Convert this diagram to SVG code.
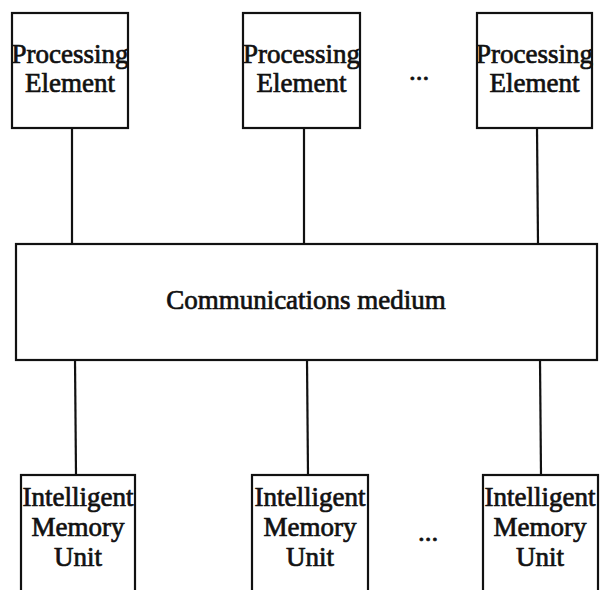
<svg xmlns="http://www.w3.org/2000/svg" width="600" height="590" viewBox="0 0 600 590">
<style>
.box{fill:#fff;stroke:#111;stroke-width:2.2}
.ln{stroke:#111;stroke-width:2.2;fill:none}
.t{font-family:"Liberation Serif","Times New Roman",serif;font-size:27px;fill:#111;text-anchor:middle;stroke:#111;stroke-width:0.7}
</style>
<rect width="600" height="590" fill="#fff"/>
<g id="connectors">
<line class="ln" x1="72" y1="128" x2="72" y2="244"/>
<line class="ln" x1="304" y1="128" x2="304" y2="244"/>
<line class="ln" x1="537" y1="128" x2="538" y2="244"/>
<line class="ln" x1="75" y1="360" x2="76" y2="475"/>
<line class="ln" x1="307" y1="360" x2="308" y2="475"/>
<line class="ln" x1="540" y1="360" x2="541" y2="475"/>
</g>
<g id="pe1"><rect class="box" x="12" y="13" width="116" height="115"/><text class="t" x="70" y="63">Processing</text><text class="t" x="70" y="92">Element</text></g>
<g id="pe2"><rect class="box" x="243" y="13" width="117" height="115"/><text class="t" x="301.5" y="63">Processing</text><text class="t" x="301.5" y="92">Element</text></g>
<g id="pe-dots"><text class="t" x="419" y="80">...</text></g>
<g id="pe3"><rect class="box" x="477" y="13" width="115" height="115"/><text class="t" x="534.5" y="63">Processing</text><text class="t" x="534.5" y="92">Element</text></g>
<g id="comm"><rect class="box" x="16" y="244" width="581" height="116"/><text class="t" x="306" y="309">Communications medium</text></g>
<g id="imu1"><rect class="box" x="21" y="475" width="114" height="130"/><text class="t" x="78" y="506">Intelligent</text><text class="t" x="78" y="536">Memory</text><text class="t" x="78" y="566">Unit</text></g>
<g id="imu2"><rect class="box" x="252" y="475" width="116" height="130"/><text class="t" x="310" y="506">Intelligent</text><text class="t" x="310" y="536">Memory</text><text class="t" x="310" y="566">Unit</text></g>
<g id="imu-dots"><text class="t" x="428" y="541">...</text></g>
<g id="imu3"><rect class="box" x="483" y="475" width="115" height="130"/><text class="t" x="540" y="506">Intelligent</text><text class="t" x="540" y="536">Memory</text><text class="t" x="540" y="566">Unit</text></g>
</svg>
